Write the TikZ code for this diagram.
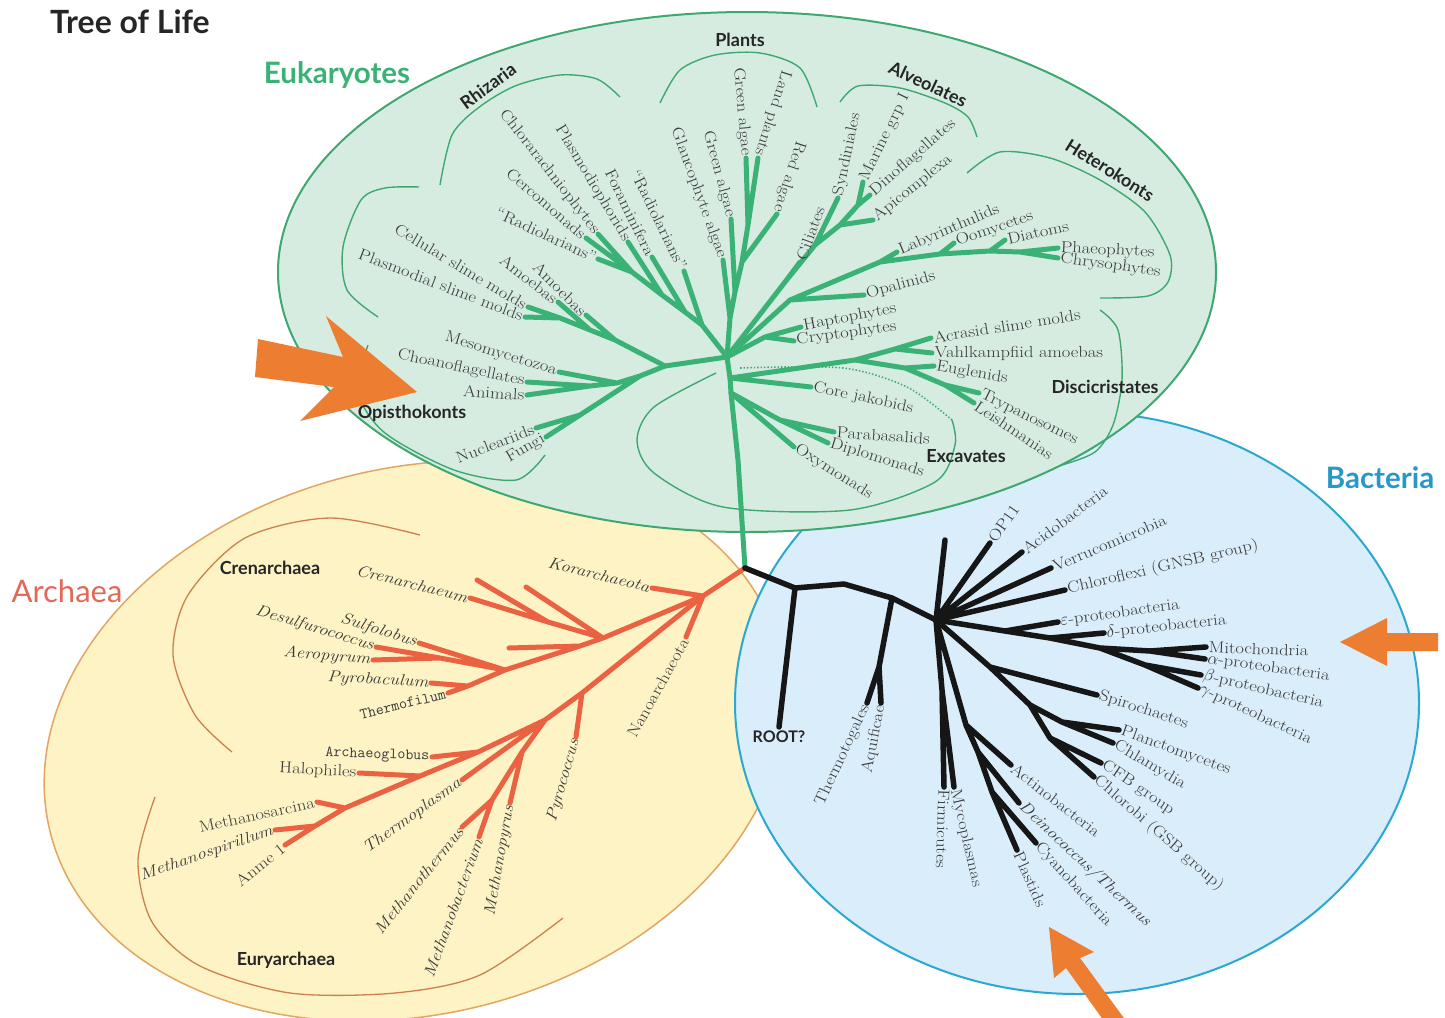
\documentclass[tikz,border=0pt]{standalone}
\usepackage{fontspec}
\usepackage{amsmath,amssymb}
\setmainfont{Latin Modern Roman}[FakeStretch=1.16]
\newfontfamily\grpfont{Lato}
\usetikzlibrary{calc}

\definecolor{eukgreen}{RGB}{58,178,118}
\definecolor{eukfill}{RGB}{214,236,225}
\definecolor{eukedge}{RGB}{62,168,112}
\definecolor{arcfill}{RGB}{253,243,197}
\definecolor{arcedge}{RGB}{226,166,96}
\definecolor{arcred}{RGB}{234,98,66}
\definecolor{arcthin}{RGB}{205,128,78}
\definecolor{bacfill}{RGB}{218,237,250}
\definecolor{bacedge}{RGB}{42,168,210}
\definecolor{bacblack}{RGB}{22,22,22}
\definecolor{pointer}{RGB}{237,125,49}
\definecolor{lblgray}{RGB}{58,58,58}
\definecolor{archname}{RGB}{226,104,88}
\definecolor{bacname}{RGB}{40,152,200}

\begin{document}
\begin{tikzpicture}[x=1pt,y=-1pt,
    euk/.style={draw=eukgreen,line width=5pt,line cap=round,line join=round},
    arch/.style={draw=arcred,line width=5pt,line cap=round,line join=round},
    bact/.style={draw=bacblack,line width=5.5pt,line cap=round,line join=round},
    eukarc/.style={draw=eukedge,line width=1.4pt},
    archarc/.style={draw=arcthin,line width=1.3pt},
    lbl/.style={font=\fontsize{16}{18}\selectfont,text=lblgray,inner sep=2.5pt},
    grp/.style={font=\grpfont\bfseries\fontsize{18}{20}\selectfont,text=black!85},
    domname/.style={font=\grpfont\bfseries\fontsize{29.5}{33}\selectfont}]
\useasboundingbox (0,0) rectangle (1445,1017);

% the three domains
\filldraw[fill=arcfill,draw=arcedge,line width=1.5pt,rotate around={14:(415,741)}] (415,741) ellipse [x radius=376pt,y radius=273pt];
\filldraw[fill=bacfill,draw=bacedge,line width=2pt] (1077,703) ellipse [x radius=342pt,y radius=291pt];
\filldraw[fill=eukfill,draw=eukedge,line width=2pt] (747,272) ellipse [x radius=469pt,y radius=260pt];

% brackets
\draw[eukarc] plot[smooth] coordinates {(440,185) (452,135) (478,108) (515,86) (560,75) (597,79) (620,97)};
\draw[eukarc] plot[smooth] coordinates {(660,103) (680,70) (715,55) (760,53) (800,68) (817,107)};
\draw[eukarc] plot[smooth] coordinates {(840,102) (858,86) (900,88) (945,103) (968,117) (977,137)};
\draw[eukarc] plot[smooth] coordinates {(967,173) (1000,152) (1050,158) (1100,180) (1145,212) (1170,255) (1168,282) (1148,296) (1100,298)};
\draw[eukarc] plot[smooth] coordinates {(1100,310) (1118,330) (1122,380) (1113,425) (1095,452) (1062,465)};
\draw[eukarc] plot[smooth] coordinates {(419,187) (385,188) (361,200) (343,247) (347,290) (378,317)};
\draw[eukarc] plot[smooth] coordinates {(368,345) (358,392) (385,433) (454,470) (516,480) (545,455)};
\draw[eukarc] plot[smooth] coordinates {(716,373) (654,407) (637,440) (654,473) (723,507) (850,510) (935,482) (955,445) (952,420)};
\draw[eukarc,dotted,line width=1.6pt] plot[smooth] coordinates {(952,420) (907,387) (843,368) (740,368)};
\draw[archarc] plot[smooth] coordinates {(420,535) (330,518) (245,538) (188,595) (173,655) (195,715) (232,752)};
\draw[archarc] plot[smooth] coordinates {(155,797) (138,860) (152,922) (200,966) (290,993) (395,993) (480,975) (563,918)};

% eukaryotes
\coordinate (E0) at (727,357);
\coordinate (junc) at (745,568);
\coordinate (D0) at (730,378);
\coordinate (X0) at (731,393);
\coordinate (T1) at (738,460);
\coordinate (P1) at (748,225);
\coordinate (P2) at (742,262);
\coordinate (P3) at (735,292);
\coordinate (P4) at (730,318);
\coordinate (glauc) at (723,260);
\coordinate (greenb) at (731,219);
\coordinate (greena) at (746,158);
\coordinate (land) at (758,158);
\coordinate (redalg) at (777,214);
\coordinate (R1) at (632,272);
\coordinate (R2) at (662,295);
\coordinate (R3) at (685,312);
\coordinate (R4) at (702,325);
\coordinate (chlorar) at (598,234);
\coordinate (plasmo) at (628,242);
\coordinate (foram) at (652,257);
\coordinate (radioa) at (684,271);
\coordinate (cerco) at (586,238);
\coordinate (radiob) at (598,259);
\coordinate (A1) at (560,318);
\coordinate (A2) at (590,330);
\coordinate (A3) at (615,340);
\coordinate (A4) at (665,366);
\coordinate (amoeba) at (586,315);
\coordinate (amoebb) at (558,302);
\coordinate (cellsm) at (528,307);
\coordinate (plassm) at (525,317);
\coordinate (O1) at (590,386);
\coordinate (O2) at (617,383);
\coordinate (O3) at (640,376);
\coordinate (N1) at (580,415);
\coordinate (meso) at (559,372);
\coordinate (choano) at (527,382);
\coordinate (animal) at (527,395);
\coordinate (nucle) at (536,428);
\coordinate (fungi) at (546,437);
\coordinate (H1) at (765,337);
\coordinate (hapto) at (801,327);
\coordinate (crypto) at (794,341);
\coordinate (Al0) at (785,282);
\coordinate (Al1) at (815,245);
\coordinate (Al2) at (840,225);
\coordinate (Al3) at (858,205);
\coordinate (cilia) at (800,262);
\coordinate (syndin) at (838,198);
\coordinate (marine) at (863,182);
\coordinate (dino) at (870,195);
\coordinate (apicom) at (873,220);
\coordinate (He1) at (790,300);
\coordinate (He2) at (880,262);
\coordinate (He3) at (940,254);
\coordinate (He4) at (990,251);
\coordinate (He5) at (1020,252);
\coordinate (opal) at (864,295);
\coordinate (laby) at (897,252);
\coordinate (oomy) at (954,243);
\coordinate (diat) at (1005,240);
\coordinate (phaeo) at (1058,248);
\coordinate (chryso) at (1058,258);
\coordinate (D1) at (855,360);
\coordinate (D2) at (895,349);
\coordinate (D3) at (905,368);
\coordinate (D4) at (945,385);
\coordinate (acras) at (931,338);
\coordinate (vahl) at (932,353);
\coordinate (eugl) at (934,366);
\coordinate (trypa) at (979,393);
\coordinate (leish) at (974,403);
\coordinate (corej) at (811,387);
\coordinate (X1) at (780,420);
\coordinate (parab) at (834,432);
\coordinate (diplo) at (828,443);
\coordinate (oxy) at (794,447);

\draw[euk] (E0) -- (D0) -- (X0) -- (T1) -- (junc);
\draw[euk] (E0) -- (P4) -- (P3) -- (P2) -- (P1) -- (greena) (P1) -- (land) (P2) -- (redalg) (P3) -- (greenb) (P4) -- (glauc);
\draw[euk] (E0) -- (R4) -- (R3) -- (R2) -- (R1) -- (chlorar) (R1) -- (cerco) (R1) -- (radiob) (R2) -- (plasmo) (R3) -- (foram) (R4) -- (radioa);
\draw[euk] (E0) -- (A4) -- (A3) -- (A2) -- (A1) -- (cellsm) (A1) -- (plassm) (A2) -- (amoebb) (A3) -- (amoeba);
\draw[euk] (A4) -- (O3) -- (O2) -- (O1) -- (choano) (O1) -- (animal) (O2) -- (meso) (O3) -- (N1) -- (nucle) (N1) -- (fungi);
\draw[euk] (E0) -- (H1) -- (hapto) (H1) -- (crypto);
\draw[euk] (E0) -- (Al0) -- (cilia) (Al0) -- (Al1) -- (syndin) (Al1) -- (Al2) -- (apicom) (Al2) -- (Al3) -- (marine) (Al3) -- (dino);
\draw[euk] (E0) -- (He1) -- (opal) (He1) -- (He2) -- (laby) (He2) -- (He3) -- (oomy) (He3) -- (He4) -- (diat) (He4) -- (He5) -- (phaeo) (He5) -- (chryso);
\draw[euk] (D0) -- (D1) -- (D2) -- (acras) (D2) -- (vahl) (D1) -- (D3) -- (eugl) (D3) -- (D4) -- (trypa) (D4) -- (leish) (D0) -- (corej);
\draw[euk] (X0) -- (X1) -- (parab) (X1) -- (diplo) (X0) -- (oxy);

% archaea
\coordinate (K0) at (703,596);
\coordinate (C1) at (603,638);
\coordinate (C1b) at (580,646);
\coordinate (C2) at (548,622);
\coordinate (C3) at (505,670);
\coordinate (C4) at (440,658);
\coordinate (C5) at (468,686);
\coordinate (kora) at (652,588);
\coordinate (nano) at (686,637);
\coordinate (crenm) at (470,598);
\coordinate (U1) at (477,580);
\coordinate (U2) at (526,587);
\coordinate (U3) at (509,648);
\coordinate (sulfo) at (419,643);
\coordinate (desulf) at (376,647);
\coordinate (aerop) at (373,660);
\coordinate (pyrob) at (431,683);
\coordinate (thermof) at (448,693);
\coordinate (Eu1) at (582,693);
\coordinate (Eu2) at (545,720);
\coordinate (Eu3) at (522,752);
\coordinate (Eu4) at (492,800);
\coordinate (G1) at (478,752);
\coordinate (G2) at (420,776);
\coordinate (G3) at (345,808);
\coordinate (G4) at (315,826);
\coordinate (pyroc) at (576,737);
\coordinate (mpyrus) at (510,803);
\coordinate (mtherm) at (462,827);
\coordinate (mbact) at (479,837);
\coordinate (tplasma) at (462,780);
\coordinate (aglob) at (432,757);
\coordinate (halo) at (359,773);
\coordinate (msarc) at (317,802);
\coordinate (mspir) at (275,830);
\coordinate (anme) at (285,845);

\draw[arch] (junc) -- (K0) -- (kora) (K0) -- (nano) (K0) -- (C1) -- (U2) (C1) -- (C2) -- (crenm) (C2) -- (U1) (C1) -- (C1b) -- (C3) -- (sulfo) (C1b) -- (U3) (C3) -- (C4) -- (desulf) (C4) -- (aerop) (C3) -- (C5) -- (pyrob) (C5) -- (thermof);
\draw[arch] (K0) -- (Eu1) -- (pyroc) (Eu1) -- (Eu2) -- (Eu3) -- (mpyrus) (Eu3) -- (Eu4) -- (mtherm) (Eu4) -- (mbact) (Eu2) -- (tplasma) (Eu2) -- (G1) -- (aglob) (G1) -- (G2) -- (halo) (G2) -- (G3) -- (msarc) (G3) -- (G4) -- (mspir) (G4) -- (anme);

% bacteria
\coordinate (bj1) at (795,588);
\coordinate (bj2) at (844,584);
\coordinate (bj3) at (892,598);
\coordinate (hub) at (936,620);
\coordinate (bta) at (879,667);
\coordinate (rootb) at (779,727);
\coordinate (bup) at (945,540);
\coordinate (ttog) at (867,703);
\coordinate (aqui) at (881,703);
\coordinate (op11) at (990,543);
\coordinate (acido) at (1022,552);
\coordinate (verru) at (1051,568);
\coordinate (chlfx) at (1065,590);
\coordinate (pr1) at (1005,631);
\coordinate (pr2) at (1050,638);
\coordinate (pr3) at (1100,648);
\coordinate (pr4) at (1150,651);
\coordinate (pr5) at (1145,665);
\coordinate (eps) at (1058,622);
\coordinate (delta) at (1104,633);
\coordinate (mito) at (1206,647);
\coordinate (alpha) at (1205,659);
\coordinate (beta) at (1201,675);
\coordinate (gamma) at (1198,688);
\coordinate (sp1) at (990,667);
\coordinate (sp2) at (1030,705);
\coordinate (sp3) at (1062,722);
\coordinate (sp4) at (1050,738);
\coordinate (spiro) at (1097,695);
\coordinate (planc) at (1119,730);
\coordinate (chlam) at (1113,743);
\coordinate (cfb) at (1101,763);
\coordinate (chlbi) at (1094,777);
\coordinate (fm0) at (942,690);
\coordinate (firm) at (944,787);
\coordinate (myco) at (954,787);
\coordinate (ac0) at (966,725);
\coordinate (ac1) at (978,752);
\coordinate (ac2) at (992,792);
\coordinate (actino) at (1011,765);
\coordinate (deino) at (1019,803);
\coordinate (cyano) at (1036,843);
\coordinate (plast) at (1017,850);

\draw[bact] (junc) -- (bj1) -- (bj2) -- (bj3) -- (hub) (bj1) -- (rootb) (bj3) -- (bta) -- (ttog) (bta) -- (aqui);
\draw[bact] (hub) -- (bup) (hub) -- (op11) (hub) -- (acido) (hub) -- (verru) (hub) -- (chlfx);
\draw[bact] (hub) -- (pr1) -- (eps) (pr1) -- (pr2) -- (delta) (pr2) -- (pr3) -- (pr4) -- (mito) (pr4) -- (alpha) (pr3) -- (pr5) -- (beta) (pr5) -- (gamma);
\draw[bact] (hub) -- (sp1) -- (spiro) (sp1) -- (sp2) -- (sp3) -- (planc) (sp3) -- (chlam) (sp2) -- (sp4) -- (cfb) (sp4) -- (chlbi);
\draw[bact] (hub) -- (fm0) -- (firm) (fm0) -- (myco) (hub) -- (ac0) -- (actino) (ac0) -- (ac1) -- (deino) (ac1) -- (ac2) -- (cyano) (ac2) -- (plast);

% labels, eukaryotes
\node[lbl,anchor=east,rotate=-70] (tglauc) at (glauc) {Glaucophyte algae};
\node[lbl,anchor=east,rotate=-75] (tgreenb) at (greenb) {Green algae};
\node[lbl,anchor=east,rotate=-85] (tgreena) at (greena) {Green algae};
\node[lbl,anchor=east,rotate=-108] (tland) at (land) {Land plants};
\node[lbl,anchor=east,rotate=-108] (tredalg) at (redalg) {Red algae};
\node[lbl,anchor=east,rotate=-52] (tchlorar) at (chlorar) {Chlorarachniophytes};
\node[lbl,anchor=east,rotate=-59] (tplasmo) at (plasmo) {Plasmodiophorids};
\node[lbl,anchor=east,rotate=-64] (tforam) at (foram) {Foraminifera};
\node[lbl,anchor=east,rotate=-64] (tradioa) at (radioa) {“Radiolarians”};
\node[lbl,anchor=east,rotate=-41] (tcerco) at (cerco) {Cercomonads};
\node[lbl,anchor=east,rotate=-25] (tradiob) at (radiob) {“Radiolarians”};
\node[lbl,anchor=east,rotate=-45] (tamoeba) at (amoeba) {Amoebas};
\node[lbl,anchor=east,rotate=-38] (tamoebb) at (amoebb) {Amoebas};
\node[lbl,anchor=east,rotate=-31] (tcellsm) at (cellsm) {Cellular slime molds};
\node[lbl,anchor=east,rotate=-21] (tplassm) at (plassm) {Plasmodial slime molds};
\node[lbl,anchor=east,rotate=-17] (tmeso) at (meso) {Mesomycetozoa};
\node[lbl,anchor=east,rotate=-12] (tchoano) at (choano) {Choanoflagellates};
\node[lbl,anchor=east,rotate=-4] (tanimal) at (animal) {Animals};
\node[lbl,anchor=east,rotate=21] (tnucle) at (nucle) {Nucleariids};
\node[lbl,anchor=east,rotate=30] (tfungi) at (fungi) {Fungi};
\node[lbl,anchor=west,rotate=11] (thapto) at (hapto) {Haptophytes};
\node[lbl,anchor=west,rotate=8] (tcrypto) at (crypto) {Cryptophytes};
\node[lbl,anchor=west,rotate=70] (tcilia) at (cilia) {Ciliates};
\node[lbl,anchor=west,rotate=78] (tsyndin) at (syndin) {Syndiniales};
\node[lbl,anchor=west,rotate=64] (tmarine) at (marine) {Marine grp I};
\node[lbl,anchor=west,rotate=41] (tdino) at (dino) {Dinoflagellates};
\node[lbl,anchor=west,rotate=39] (tapicom) at (apicom) {Apicomplexa};
\node[lbl,anchor=west,rotate=15] (topal) at (opal) {Opalinids};
\node[lbl,anchor=west,rotate=23] (tlaby) at (laby) {Labyrinthulids};
\node[lbl,anchor=west,rotate=19] (toomy) at (oomy) {Oomycetes};
\node[lbl,anchor=west,rotate=13] (tdiat) at (diat) {Diatoms};
\node[lbl,anchor=west,rotate=-3] (tphaeo) at (phaeo) {Phaeophytes};
\node[lbl,anchor=west,rotate=-8] (tchryso) at (chryso) {Chrysophytes};
\node[lbl,anchor=west,rotate=9] (tacras) at (acras) {Acrasid slime molds};
\node[lbl,anchor=west,rotate=0] (tvahl) at (vahl) {Vahlkampfiid amoebas};
\node[lbl,anchor=west,rotate=-10] (teugl) at (eugl) {Euglenids};
\node[lbl,anchor=west,rotate=-26] (ttrypa) at (trypa) {Trypanosomes};
\node[lbl,anchor=west,rotate=-34] (tleish) at (leish) {Leishmanias};
\node[lbl,anchor=west,rotate=-12] (tcorej) at (corej) {Core jakobids};
\node[lbl,anchor=west,rotate=-4] (tparab) at (parab) {Parabasalids};
\node[lbl,anchor=west,rotate=-17] (tdiplo) at (diplo) {Diplomonads};
\node[lbl,anchor=west,rotate=-32] (toxy) at (oxy) {Oxymonads};

% labels, archaea
\node[lbl,anchor=east,rotate=-14] (tcrenm) at (crenm) {\itshape Crenarchaeum};
\node[lbl,anchor=east,rotate=-14] (tkora) at (kora) {\itshape Korarchaeota};
\node[lbl,anchor=east,rotate=-17] (tsulfo) at (sulfo) {\itshape Sulfolobus};
\node[lbl,anchor=east,rotate=-17] (tdesulf) at (desulf) {\itshape Desulfurococcus};
\node[lbl,anchor=east,rotate=-5] (taerop) at (aerop) {\itshape Aeropyrum};
\node[lbl,anchor=east,rotate=-3] (tpyrob) at (pyrob) {\itshape Pyrobaculum};
\node[lbl,anchor=east,rotate=14,font=\ttfamily\fontsize{15.5}{17}\selectfont] (tthermof) at (thermof) {Thermofilum};
\node[lbl,anchor=east,rotate=61] (tnano) at (nano) {Nanoarchaeota};
\node[lbl,anchor=east,rotate=74] (tpyroc) at (pyroc) {\itshape Pyrococcus};
\node[lbl,anchor=east,rotate=80] (tmpyrus) at (mpyrus) {\itshape Methanopyrus};
\node[lbl,anchor=east,rotate=70] (tmbact) at (mbact) {\itshape Methanobacterium};
\node[lbl,anchor=east,rotate=51] (tmtherm) at (mtherm) {\itshape Methanothermus};
\node[lbl,anchor=east,rotate=36] (ttplasma) at (tplasma) {\itshape Thermoplasma};
\node[lbl,anchor=east,rotate=-2,font=\ttfamily\fontsize{15.5}{17}\selectfont] (taglob) at (aglob) {Archaeoglobus};
\node[lbl,anchor=east,rotate=-3] (thalo) at (halo) {Halophiles};
\node[lbl,anchor=east,rotate=12] (tmsarc) at (msarc) {Methanosarcina};
\node[lbl,anchor=east,rotate=19] (tmspir) at (mspir) {\itshape Methanospirillum};
\node[lbl,anchor=east,rotate=39] (tanme) at (anme) {Anme 1};

% labels, bacteria
\node[lbl,anchor=west,rotate=55] (top11) at (op11) {OP11};
\node[lbl,anchor=west,rotate=37] (tacido) at (acido) {Acidobacteria};
\node[lbl,anchor=west,rotate=23] (tverru) at (verru) {Verrucomicrobia};
\node[lbl,anchor=west,rotate=13] (tchlfx) at (chlfx) {Chloroflexi (GNSB group)};
\node[lbl,anchor=west,rotate=8] (teps) at (eps) {$\varepsilon$-proteobacteria};
\node[lbl,anchor=west,rotate=6] (tdelta) at (delta) {$\delta$-proteobacteria};
\node[lbl,anchor=west,rotate=-2] (tmito) at (mito) {Mitochondria};
\node[lbl,anchor=west,rotate=-8] (talpha) at (alpha) {$\alpha$-proteobacteria};
\node[lbl,anchor=west,rotate=-13] (tbeta) at (beta) {$\beta$-proteobacteria};
\node[lbl,anchor=west,rotate=-25] (tgamma) at (gamma) {$\gamma$-proteobacteria};
\node[lbl,anchor=west,rotate=-18] (tspiro) at (spiro) {Spirochaetes};
\node[lbl,anchor=west,rotate=-20] (tplanc) at (planc) {Planctomycetes};
\node[lbl,anchor=west,rotate=-31] (tchlam) at (chlam) {Chlamydia};
\node[lbl,anchor=west,rotate=-34] (tcfb) at (cfb) {CFB group};
\node[lbl,anchor=west,rotate=-41] (tchlbi) at (chlbi) {Chlorobi (GSB group)};
\node[lbl,anchor=west,rotate=-38] (tactino) at (actino) {Actinobacteria};
\node[lbl,anchor=west,rotate=-43] (tdeino) at (deino) {\itshape Deinococcus/Thermus};
\node[lbl,anchor=west,rotate=-48] (tcyano) at (cyano) {Cyanobacteria};
\node[lbl,anchor=west,rotate=-66] (tplast) at (plast) {Plastids};
\node[lbl,anchor=west,rotate=-77] (tmyco) at (myco) {Mycoplasmas};
\node[lbl,anchor=west,rotate=-92] (tfirm) at (firm) {Firmicutes};
\node[lbl,anchor=east,rotate=65] (tttog) at (ttog) {Thermotogales};
\node[lbl,anchor=east,rotate=79] (taqui) at (aqui) {Aquificae};
\node[grp,anchor=north,font=\grpfont\bfseries\fontsize{16}{18}\selectfont] (troot) at (rootb) {ROOT?};

% group names
\node[grp] (gplants) at (740,40) {Plants};
\node[grp,rotate=36] (grhiz) at (488,86) {Rhizaria};
\node[grp,rotate=-25] (galv) at (928,84) {Alveolates};
\node[grp,rotate=-32] (ghet) at (1110,170) {Heterokonts};
\node[grp] (gopis) at (412,413) {Opisthokonts};
\node[grp] (gdisc) at (1105,387) {Discicristates};
\node[grp] (gexc) at (966,456) {Excavates};
\node[grp] (gcren) at (270,568) {Crenarchaea};
\node[grp] (geury) at (286,960) {Euryarchaea};

\node[domname,text=black!85,font=\grpfont\bfseries\fontsize{32}{36}\selectfont] (title) at (130,22) {Tree of Life};
\node[domname,text=eukgreen] (eukname) at (337,75) {Eukaryotes};
\node[domname,text=archname,font=\grpfont\fontsize{31}{35}\selectfont] (arcname) at (67,591) {Archaea};
\node[domname,text=bacname] (bacteria) at (1380,478) {Bacteria};

% pointers
\fill[pointer] (258,339) -- (343,357) -- (326,316) -- (417,392) -- (300,421) -- (334,387) -- (255,377) -- cycle;
\fill[pointer] (1438,633) -- (1387,633) -- (1387,618) -- (1340,642) -- (1387,666) -- (1387,651) -- (1438,651) -- cycle;
\fill[pointer] (1049,927) -- (1094,952) -- (1080,958) -- (1129,1025) -- (1114,1035) -- (1066,968) -- (1054,978) -- cycle;
\end{tikzpicture}
\end{document}
